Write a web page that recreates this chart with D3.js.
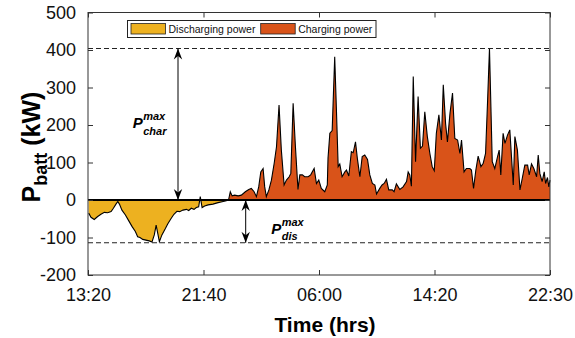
<!DOCTYPE html>
<html><head><meta charset="utf-8">
<script src="https://cdn.jsdelivr.net/npm/d3@7"></script>
<style>
html,body{margin:0;padding:0;background:#fff;}
svg{display:block;font-family:"Liberation Sans",Arial,Helvetica,sans-serif;}
</style></head>
<body>
<svg id="chart" width="575" height="338"></svg>
<script>
// ---- data (minutes after 13:20, battery power in kW) ----
const timeMin = [3,13,27,42,56,71,85,100,110,121,129,136,147,162,176,191,205,215,225,237,251,265,277,287,295,302,309,320,335,345,359,372,385,397,411,426,436,447,459,469,479,486,494,505,520,541,563,585,599,609,616,624,635,650,664,681,696,707,719,729,739,748,758,765,772,783,794,806,816,827,837,849,859,871,878,888,898,909,917,928,938,953,964,979,989,999,1010,1025,1036,1039,1047,1057,1068,1075,1083,1090,1100,1112,1119,1129,1140,1148,1158,1166,1177,1187,1198,1210,1220,1231,1242,1249,1263,1273,1282,1292,1302,1317,1325,1335,1350,1364,1379,1386,1393,1400,1408,1418,1429,1439,1448,1458,1469,1480,1490,1499,1508,1519,1530,1538,1548,1556,1567,1578,1588,1600,1610,1617,1628,1638,1653,1660,1669,1679,1689,1701,1711,1721,1730,1738,1750,1761,1773,1780,1787,1797,1805,1816,1826,1841,1848,1859,1870,1880,1891,1903,1910,1920,1930,1942,1949,1956,1966,1975,1981,1989,1995,2000];
const powerKW = [-35,-46,-52,-44,-38,-33,-34,-31,-22,-11,-4,-11,-27,-40,-55,-71,-84,-98,-100,-105,-107,-109,-112,-93,-67,-89,-111,-93,-76,-64,-50,-38,-30,-31,-27,-25,-28,-22,-25,-20,-18,9,-20,-16,-13,-11,-7,-4,-2,2,22,11,13,11,13,22,28,31,22,9,35,75,84,35,9,27,53,98,142,253,133,40,53,62,71,258,142,28,67,67,62,62,67,84,44,53,31,22,40,111,178,185,382,249,89,96,62,75,80,64,129,126,155,111,62,116,120,108,67,44,40,16,31,40,44,55,27,27,22,43,28,35,49,75,67,37,329,102,276,138,144,235,169,124,89,78,178,227,160,307,204,155,231,285,164,160,124,160,75,84,84,80,31,80,117,89,98,124,267,404,102,84,116,133,67,178,151,173,187,40,169,133,27,58,93,93,67,96,84,62,120,71,49,75,44,60,35,53];
const xTickValues = [0,500,1000,1500,2000];
const xTickLabels = ["13:20","21:40","06:00","14:20","22:30"];
const yTickValues = [-200,-100,0,100,200,300,400,500];
const pCharMax = 404;
const pDisMax = -114;
const legendLabels = ["Discharging power","Charging power"];
const seriesColors = ["#EDB120","#D95319"];

// ---- layout ----
const L = 88, R = 550, T = 12.5, B = 275;
const svg = d3.select("#chart");
const x = d3.scaleLinear().domain([0,2000]).range([L,R]);
const y = d3.scaleLinear().domain([-200,500]).range([B,T]);
const data = timeMin.map((t,i)=>({t, v: powerKW[i]}));

const defs = svg.append("defs");
defs.append("clipPath").attr("id","clipPos").append("rect")
  .attr("x",L).attr("y",T).attr("width",R-L).attr("height",y(0)-T);
defs.append("clipPath").attr("id","clipNeg").append("rect")
  .attr("x",L).attr("y",y(0)).attr("width",R-L).attr("height",B-y(0));

const area = d3.area().x(d=>x(d.t)).y0(y(0)).y1(d=>y(d.v));
svg.append("path").datum(data).attr("d",area).attr("fill",seriesColors[1]).attr("clip-path","url(#clipPos)");
svg.append("path").datum(data).attr("d",area).attr("fill",seriesColors[0]).attr("clip-path","url(#clipNeg)");
const line = d3.line().x(d=>x(d.t)).y(d=>y(d.v));
svg.append("path").datum(data).attr("d",line).attr("fill","none").attr("stroke","#000").attr("stroke-width",1.1).attr("stroke-linejoin","miter");

// zero line
svg.append("line").attr("x1",L).attr("x2",R).attr("y1",y(0)).attr("y2",y(0)).attr("stroke","#000").attr("stroke-width",2);

// dashed limit lines
[pCharMax,pDisMax].forEach(v=>{
  svg.append("line").attr("x1",L).attr("x2",R).attr("y1",y(v)).attr("y2",y(v))
    .attr("stroke","#222").attr("stroke-width",1).attr("stroke-dasharray","5,3");
});

// axes
const fontTick = "18px";
const gx = svg.append("g").attr("transform",`translate(0,${B})`)
  .call(d3.axisBottom(x).tickValues(xTickValues).tickFormat((d,i)=>xTickLabels[i]).tickSizeInner(-5).tickSizeOuter(0).tickPadding(13));
const gxt = svg.append("g").attr("transform",`translate(0,${T})`)
  .call(d3.axisTop(x).tickValues(xTickValues).tickFormat("").tickSizeInner(-5).tickSizeOuter(0));
const gy = svg.append("g").attr("transform",`translate(${L},0)`)
  .call(d3.axisLeft(y).tickValues(yTickValues).tickFormat(d3.format("d")).tickSizeInner(-5).tickSizeOuter(0).tickPadding(12));
const gyr = svg.append("g").attr("transform",`translate(${R},0)`)
  .call(d3.axisRight(y).tickValues(yTickValues).tickFormat("").tickSizeInner(-5).tickSizeOuter(0));
[gx,gxt,gy,gyr].forEach(g=>{
  g.select(".domain").remove();
  g.selectAll(".tick line").attr("stroke","#333");
  g.selectAll(".tick text").attr("fill","#111").style("font-size",fontTick).style("font-family","'Liberation Sans',Arial,sans-serif");
});
gy.selectAll(".tick text").text(d=>d<0?"-"+Math.abs(d):d);
svg.append("rect").attr("x",L).attr("y",T).attr("width",R-L).attr("height",B-T)
  .attr("fill","none").attr("stroke","#333").attr("stroke-width",1);

// axis labels
svg.append("text").attr("x",325).attr("y",332).attr("text-anchor","middle")
  .style("font-size","21px").style("font-weight","bold").text("Time (hrs)");
const yl = svg.append("text").attr("transform","translate(40,147) rotate(-90)").attr("text-anchor","middle")
  .style("font-size","25px").style("font-weight","bold");
yl.append("tspan").text("P");
yl.append("tspan").attr("dy",7).style("font-size","18px").text("batt");
yl.append("tspan").attr("dy",-7).text(" (kW)");

// legend
const lg = svg.append("g");
lg.append("rect").attr("x",127.5).attr("y",20.5).attr("width",248.5).attr("height",17).attr("fill","#fff").attr("stroke","#222").attr("stroke-width",1);
const legendX = [131,260.7];
legendLabels.forEach((lab,i)=>{
  lg.append("rect").attr("x",legendX[i]).attr("y",23.5).attr("width",34.5).attr("height",10.5)
    .attr("fill",seriesColors[i]).attr("stroke","#222").attr("stroke-width",0.8);
  lg.append("text").attr("x",legendX[i]+37.5).attr("y",32.6).style("font-size","10.5px").attr("fill","#111").text(lab);
});

// arrows
function dblArrow(xp, v1, v2){
  const y1 = y(v1), y2 = y(v2);
  svg.append("line").attr("x1",xp).attr("x2",xp).attr("y1",y1).attr("y2",y2).attr("stroke","#000").attr("stroke-width",1);
  const head = (tip, dir) => `M${xp},${tip} L${xp-4.2},${tip+dir*11} L${xp},${tip+dir*7.5} L${xp+4.2},${tip+dir*11} Z`;
  const dir = y2 > y1 ? 1 : -1;
  svg.append("path").attr("d",head(y1,dir)).attr("fill","#000");
  svg.append("path").attr("d",head(y2,-dir)).attr("fill","#000");
}
dblArrow(178, pCharMax, 0);
dblArrow(245.7, 0, pDisMax);

// P labels
function pLabel(px, base, sub){
  svg.append("text").attr("x",px).attr("y",base).style("font-size","15px").style("font-weight","bold").style("font-style","italic").text("P");
  svg.append("text").attr("x",px+10.5).attr("y",base-8).style("font-size","11px").style("font-weight","bold").style("font-style","italic").text("max");
  svg.append("text").attr("x",px+10.5).attr("y",base+6.5).style("font-size","11px").style("font-weight","bold").style("font-style","italic").text(sub);
}
pLabel(132.7, 128.3, "char");
pLabel(271.2, 233.5, "dis");
</script>
</body></html>
